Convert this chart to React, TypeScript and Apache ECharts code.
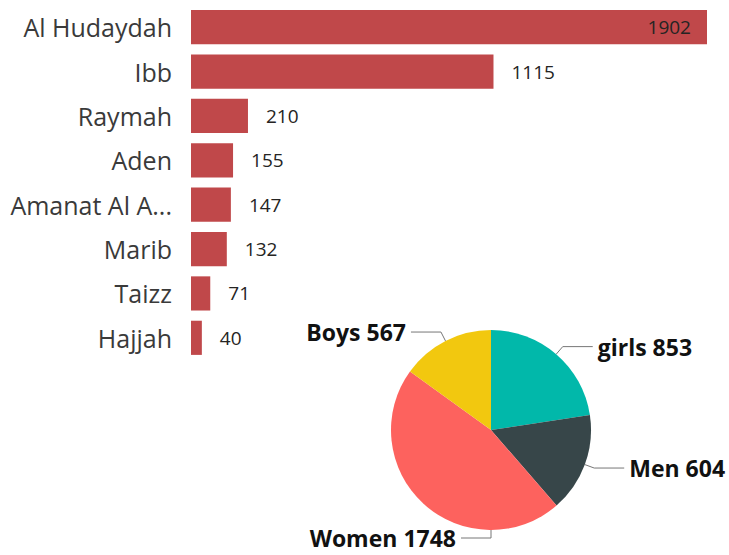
import React, { useEffect, useRef } from "react";
import * as echarts from "echarts";

const categories = ["Al Hudaydah", "Ibb", "Raymah", "Aden", "Amanat Al A...", "Marib", "Taizz", "Hajjah"];
const barValues = [1902, 1115, 210, 155, 147, 132, 71, 40];
const pieNames = ["girls", "Men", "Women", "Boys"];
const pieValues = [853, 604, 1748, 567];
const pieColors = ["#01B8AA", "#374649", "#FD625E", "#F2C80F"];

const PIE_CX = 491;
const PIE_CY = 430;
const PIE_R = 100;

export default function App() {
  const ref = useRef<HTMLDivElement>(null);
  useEffect(() => {
    const chart = echarts.init(ref.current!, null, { renderer: "svg" });
    const font = "'Open Sans', 'Noto Sans', sans-serif";
    chart.setOption({
      animation: false,
      textStyle: { fontFamily: font },
      grid: { left: 191, right: 22, top: 5, height: 355 },
      xAxis: { type: "value", min: 0, max: 1902, show: false },
      yAxis: {
        type: "category",
        data: categories,
        inverse: true,
        axisLine: { show: false },
        axisTick: { show: false },
        axisLabel: { fontSize: 25, color: "#3a3a3a", margin: 19, fontFamily: font },
      },
      series: [
        {
          type: "bar",
          barCategoryGap: "23%",
          data: barValues.map((v, i) => ({
            value: v,
            label: i === 0 ? { position: "insideRight", distance: 16 } : undefined,
          })),
          itemStyle: { color: "#C0484A" },
          label: {
            show: true,
            position: "right",
            distance: 18,
            fontSize: 19,
            color: "#252423",
            fontFamily: font,
          },
        },
        {
          type: "pie",
          center: [PIE_CX, PIE_CY],
          radius: PIE_R,
          startAngle: 90,
          clockwise: true,
          data: pieNames.map((n, i) => ({ name: n, value: pieValues[i], itemStyle: { color: pieColors[i] } })),
          label: {
            show: true,
            formatter: "{b} {c}",
            fontSize: 23,
            lineHeight: 24,
            fontWeight: "bold",
            color: "#111",
            fontFamily: font,
            overflow: "none",
            edgeDistance: 0,
          },
          labelLine: { show: true, length: 10, length2: 30, lineStyle: { color: "#777" } },
          labelLayout: (params: any) => {
            if (params.dataIndex !== 2) return {};
            const by = PIE_CY + PIE_R;
            return {
              x: PIE_CX - 35,
              y: by + 8,
              align: "right",
              verticalAlign: "middle",
              labelLinePoints: [
                [PIE_CX, by],
                [PIE_CX, by + 8],
                [PIE_CX - 30, by + 8],
              ],
            };
          },
        },
      ],
    });
    return () => chart.dispose();
  }, []);
  return <div ref={ref} style={{ width: 729, height: 555, position: "absolute", left: 0, top: 0 }} />;
}
